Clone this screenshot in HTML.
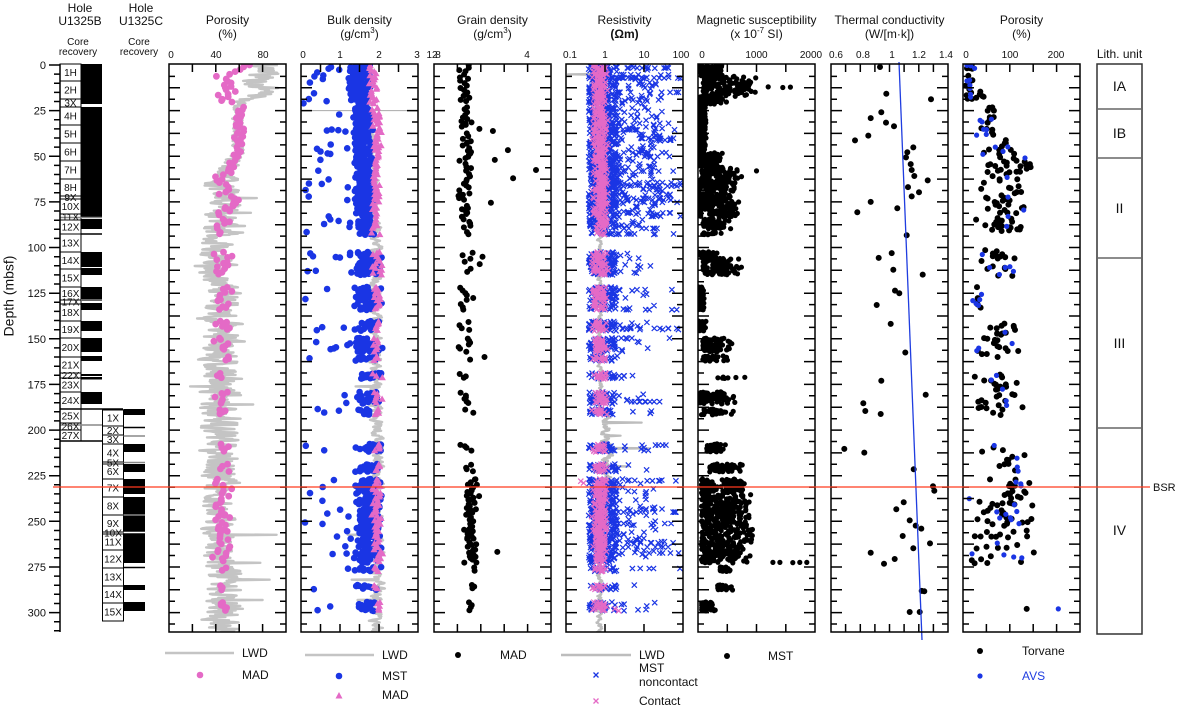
<!DOCTYPE html>
<html><head><meta charset="utf-8"><title>Hole U1325B / U1325C physical properties</title>
<style>
html,body{margin:0;padding:0;background:#fff}
svg{display:block}
text{font-family:"Liberation Sans",Arial,sans-serif;fill:#111}
</style>
</head><body>
<svg id="svg" xmlns="http://www.w3.org/2000/svg" width="1180" height="708" viewBox="0 0 1180 708">
<defs>
<clipPath id="k1"><rect x="169" y="64" width="117" height="568"/></clipPath>
<clipPath id="k2"><rect x="301" y="64" width="117" height="568"/></clipPath>
<clipPath id="k3"><rect x="434" y="64" width="117" height="568"/></clipPath>
<clipPath id="k4"><rect x="566" y="64" width="117" height="568"/></clipPath>
<clipPath id="k5"><rect x="698" y="64" width="117" height="568"/></clipPath>
<clipPath id="k6"><rect x="831" y="64" width="117" height="568"/></clipPath>
<clipPath id="k7"><rect x="963" y="64" width="117" height="568"/></clipPath>
</defs>

<!-- Headers -->
<g font-size="12" text-anchor="middle">
<text x="80" y="12">Hole</text><text x="80" y="25">U1325B</text>
<text x="141" y="12">Hole</text><text x="141" y="25">U1325C</text>
<text x="227.5" y="24">Porosity</text><text x="227.5" y="38">(%)</text>
<text x="359.5" y="24">Bulk density</text><text x="359.5" y="38">(g/cm<tspan font-size="8" dy="-5">3</tspan><tspan dy="5">)</tspan></text>
<text x="492.5" y="24">Grain density</text><text x="492.5" y="38">(g/cm<tspan font-size="8" dy="-5">3</tspan><tspan dy="5">)</tspan></text>
<text x="624.5" y="24">Resistivity</text><text x="624.5" y="38" font-weight="bold">(Ωm)</text>
<text x="756.5" y="24">Magnetic susceptibility</text><text x="756.5" y="38">(x 10<tspan font-size="8" dy="-5">-7</tspan><tspan dy="5"> SI)</tspan></text>
<text x="889.5" y="24">Thermal conductivity</text><text x="889.5" y="38">(W/[m·k])</text>
<text x="1021.5" y="24">Porosity</text><text x="1021.5" y="38">(%)</text>
<text x="1119.5" y="58">Lith. unit</text>
</g>
<g font-size="10" text-anchor="middle">
<text x="78" y="45">Core</text><text x="78" y="55">recovery</text>
<text x="139" y="45">Core</text><text x="139" y="55">recovery</text>
</g>

<!-- tick labels -->
<g font-size="10" text-anchor="middle">
<text x="171" y="58">0</text><text x="216" y="58">40</text><text x="263" y="58">80</text>
<text x="303" y="58">0</text><text x="340" y="58">1</text><text x="379" y="58">2</text><text x="417" y="58">3</text>
<text x="432" y="58">12</text><text x="438" y="58">8</text><text x="527" y="58">4</text>
<text x="570" y="58">0.1</text><text x="605" y="58">1</text><text x="644" y="58">10</text><text x="681" y="58">100</text>
<text x="702" y="58">0</text><text x="756.5" y="58">1000</text><text x="811" y="58">2000</text>
<text x="836" y="58">0.6</text><text x="863" y="58">0.8</text><text x="892" y="58">1</text><text x="919" y="58">1.2</text><text x="946" y="58">1.4</text>
<text x="966" y="58">0</text><text x="1010" y="58">100</text><text x="1056" y="58">200</text>
</g>

<!-- depth axis labels -->
<g font-size="11" text-anchor="end">
<text x="46" y="69">0</text>
<text x="46" y="114.6">25</text>
<text x="46" y="160.3">50</text>
<text x="46" y="205.9">75</text>
<text x="46" y="251.5">100</text>
<text x="46" y="297.2">125</text>
<text x="46" y="342.8">150</text>
<text x="46" y="388.4">175</text>
<text x="46" y="434.1">200</text>
<text x="46" y="479.7">225</text>
<text x="46" y="525.3">250</text>
<text x="46" y="571">275</text>
<text x="46" y="616.6">300</text>
</g>
<text font-size="14" text-anchor="middle" transform="translate(13.5,296) rotate(-90)">Depth (mbsf)</text>

<!-- Core recovery Hole B -->
<g stroke="#000" stroke-width="1" fill="#fff">
<rect x="60" y="64" width="21" height="17"/><rect x="60" y="81" width="21" height="18"/><rect x="60" y="99" width="21" height="8"/>
<rect x="60" y="107" width="21" height="18"/><rect x="60" y="125" width="21" height="18"/><rect x="60" y="143" width="21" height="18"/>
<rect x="60" y="161" width="21" height="18"/><rect x="60" y="179" width="21" height="17"/><rect x="60" y="196" width="21" height="3"/>
<rect x="60" y="199" width="21" height="15"/><rect x="60" y="214" width="21" height="6"/><rect x="60" y="220" width="21" height="14"/>
<rect x="60" y="234" width="21" height="18"/><rect x="60" y="252" width="21" height="17"/><rect x="60" y="269" width="21" height="18"/>
<rect x="60" y="287" width="21" height="13"/><rect x="60" y="300" width="21" height="4"/><rect x="60" y="304" width="21" height="17"/>
<rect x="60" y="321" width="21" height="17"/><rect x="60" y="338" width="21" height="19"/><rect x="60" y="357" width="21" height="16"/>
<rect x="60" y="373" width="21" height="5"/><rect x="60" y="378" width="21" height="14"/><rect x="60" y="392" width="21" height="17"/>
<rect x="60" y="409" width="21" height="14"/><rect x="60" y="423" width="21" height="7"/><rect x="60" y="430" width="21" height="11"/>
</g>
<g fill="#000">
<rect x="81" y="64" width="21" height="40"/><rect x="81" y="107" width="21" height="110"/><rect x="81" y="219" width="21" height="10"/>
<rect x="81" y="252" width="21" height="15"/><rect x="81" y="268" width="21" height="7"/><rect x="81" y="287" width="21" height="14"/>
<rect x="81" y="303" width="21" height="7"/><rect x="81" y="321" width="21" height="10"/><rect x="81" y="338" width="21" height="14"/>
<rect x="81" y="356" width="21" height="5"/><rect x="81" y="374" width="21" height="2"/><rect x="81" y="377" width="21" height="2.5"/>
<rect x="81" y="392" width="21" height="12"/>
</g>
<g stroke-width="1.5">
<line x1="60" y1="217.5" x2="102" y2="217.5" stroke="#888"/>
<line x1="81" y1="234" x2="102" y2="234" stroke="#000"/>
<line x1="81" y1="300" x2="102" y2="300" stroke="#888"/>
<line x1="60" y1="409" x2="123" y2="409" stroke="#000"/>
<line x1="60" y1="425" x2="102" y2="425" stroke="#888"/>
<line x1="60" y1="441" x2="102" y2="441" stroke="#000"/>
</g>
<g font-size="10" text-anchor="middle">
<text x="70.5" y="76">1H</text><text x="70.5" y="93.5">2H</text><text x="70.5" y="106.5">3X</text>
<text x="70.5" y="119.5">4H</text><text x="70.5" y="137.5">5H</text><text x="70.5" y="155.5">6H</text>
<text x="70.5" y="173.5">7H</text><text x="70.5" y="191">8H</text><text x="70.5" y="201">9X</text>
<text x="70.5" y="210">10X</text><text x="70.5" y="220.5">11X</text><text x="70.5" y="230.5">12X</text>
<text x="70.5" y="246.5">13X</text><text x="70.5" y="264">14X</text><text x="70.5" y="281.5">15X</text>
<text x="70.5" y="297">16X</text><text x="70.5" y="305.5">17X</text><text x="70.5" y="316">18X</text>
<text x="70.5" y="333">19X</text><text x="70.5" y="351">20X</text><text x="70.5" y="368.5">21X</text>
<text x="70.5" y="379">22X</text><text x="70.5" y="388.5">23X</text><text x="70.5" y="404">24X</text>
<text x="70.5" y="419.5">25X</text><text x="70.5" y="430">26X</text><text x="70.5" y="439">27X</text>
</g>

<!-- Core recovery Hole C -->
<g stroke="#000" stroke-width="1" fill="#fff">
<rect x="102.5" y="410" width="21" height="16"/><rect x="102.5" y="426" width="21" height="9"/><rect x="102.5" y="435" width="21" height="9"/>
<rect x="102.5" y="444" width="21" height="18"/><rect x="102.5" y="462" width="21" height="2"/><rect x="102.5" y="464" width="21" height="15"/>
<rect x="102.5" y="479" width="21" height="18"/><rect x="102.5" y="497" width="21" height="18"/><rect x="102.5" y="515" width="21" height="17"/>
<rect x="102.5" y="532" width="21" height="2"/><rect x="102.5" y="534" width="21" height="16"/><rect x="102.5" y="550" width="21" height="18"/>
<rect x="102.5" y="568" width="21" height="18"/><rect x="102.5" y="586" width="21" height="17"/><rect x="102.5" y="603" width="21" height="18"/>
</g>
<g fill="#000">
<rect x="123.5" y="409" width="21.5" height="6"/><rect x="123.5" y="444" width="21.5" height="8"/><rect x="123.5" y="464" width="21.5" height="8"/>
<rect x="123.5" y="479" width="21.5" height="15"/><rect x="123.5" y="497" width="21.5" height="66"/><rect x="123.5" y="585" width="21.5" height="5"/>
<rect x="123.5" y="602" width="21.5" height="9"/>
</g>
<g stroke-width="1.5">
<line x1="123.5" y1="427.5" x2="145" y2="427.5" stroke="#000"/>
<line x1="123.5" y1="436" x2="145" y2="436" stroke="#888"/>
<line x1="123.5" y1="462.5" x2="145" y2="462.5" stroke="#888"/>
<line x1="123.5" y1="515" x2="145" y2="515" stroke="#888"/>
<line x1="123.5" y1="532.5" x2="145" y2="532.5" stroke="#fff"/>
<line x1="123.5" y1="567.5" x2="145" y2="567.5" stroke="#000"/>
</g>
<g font-size="10" text-anchor="middle">
<text x="113" y="421.5">1X</text><text x="113" y="434">2X</text><text x="113" y="443">3X</text>
<text x="113" y="456.5">4X</text><text x="113" y="466.5">5X</text><text x="113" y="475">6X</text>
<text x="113" y="491.5">7X</text><text x="113" y="509.5">8X</text><text x="113" y="527">9X</text>
<text x="113" y="536.5">10X</text><text x="113" y="545.5">11X</text><text x="113" y="562.5">12X</text>
<text x="113" y="580.5">13X</text><text x="113" y="598">14X</text><text x="113" y="615.5">15X</text>
</g>

<!-- data -->
<g id="data"></g>
<!-- thermal fit line -->
<line x1="899" y1="62" x2="922" y2="640" stroke="#1f3de0" stroke-width="1.3"/>
<!-- axes/frames -->
<g id="axes" fill="none" stroke="#000" stroke-width="1.5"></g>

<!-- Lith unit -->
<rect x="1097" y="64" width="45" height="570" fill="none" stroke="#333" stroke-width="1.5"/>
<g stroke="#666" stroke-width="1.5">
<line x1="1097" y1="109" x2="1142" y2="109"/>
<line x1="1097" y1="158" x2="1142" y2="158"/>
<line x1="1097" y1="258" x2="1142" y2="258"/>
<line x1="1097" y1="428" x2="1142" y2="428"/>
</g>
<g font-size="14" text-anchor="middle">
<text x="1119.5" y="91">IA</text>
<text x="1119.5" y="138">IB</text>
<text x="1119.5" y="213">II</text>
<text x="1119.5" y="348">III</text>
<text x="1119.5" y="535">IV</text>
</g>

<!-- BSR -->
<line x1="53" y1="487" x2="1150" y2="487" stroke="#ff3b1f" stroke-width="1.2"/>
<text x="1153" y="491" font-size="11">BSR</text>

<!-- Legends -->
<g font-size="12">
<line x1="165" y1="653" x2="234" y2="653" stroke="#c4c4c4" stroke-width="2.4"/>
<text x="242" y="657">LWD</text>
<circle cx="200" cy="675" r="3.3" fill="#e46ac6"/>
<text x="242" y="679">MAD</text>

<line x1="305" y1="655" x2="374" y2="655" stroke="#c4c4c4" stroke-width="2.4"/>
<text x="382" y="659">LWD</text>
<circle cx="339" cy="676" r="3.3" fill="#1a35e4"/>
<text x="382" y="680">MST</text>
<path d="M339 692 L342.5 698.5 L335.5 698.5 Z" fill="#e46ac6"/>
<text x="382" y="699">MAD</text>

<circle cx="458" cy="655" r="3" fill="#000"/>
<text x="500" y="659">MAD</text>

<line x1="561" y1="655" x2="631" y2="655" stroke="#bdbdbd" stroke-width="2.4"/>
<text x="639" y="659">LWD</text>
<path d="M593.5 672.5 L598.5 677.5 M593.5 677.5 L598.5 672.5" stroke="#1a35e4" stroke-width="1.3"/>
<text x="639" y="672">MST</text>
<text x="639" y="686">noncontact</text>
<path d="M593.5 698.5 L598.5 703.5 M593.5 703.5 L598.5 698.5" stroke="#e46ac6" stroke-width="1.3"/>
<text x="639" y="705">Contact</text>

<circle cx="727" cy="656" r="3" fill="#000"/>
<text x="768" y="660">MST</text>

<circle cx="980" cy="651" r="3" fill="#000"/>
<text x="1022" y="655">Torvane</text>
<circle cx="980" cy="676" r="2.6" fill="#1a35e4"/>
<text x="1022" y="680" style="fill:#1f3de0">AVS</text>
</g>
</svg>

<script>
(function(){
var PINK='#e46ac6',BLUE='#1a35e4',GRAY='#c4c4c4';
var a=20240611;
function R(){a|=0;a=a+0x6D2B79F5|0;var t=Math.imul(a^a>>>15,1|a);t=t+Math.imul(t^t>>>7,61|t)^t;return((t^t>>>14)>>>0)/4294967296;}
function U(p,q){return p+(q-p)*R();}
function T(){return R()+R()-1;}
function Y(d){return 65+1.8253*d;}
function f(n){return (Math.round(n*10)/10).toString();}
function ip(K,d){if(d<=K[0][0])return [K[0][1],K[0][2]];for(var i=1;i<K.length;i++){if(d<=K[i][0]){var p=K[i-1],q=K[i],t=(d-p[0])/(q[0]-p[0]);return [p[1]+(q[1]-p[1])*t,p[2]+(q[2]-p[2])*t];}}var l=K[K.length-1];return [l[1],l[2]];}
var CI=[[0,21.4],[23,83.3],[84.4,89.8],[91.5,93],[102.4,110.7],[111.2,115],[121.6,129.3],[130.4,134.2],[140.3,145.7],[149.6,157.2],[159.4,162.2],[168.7,172],[179.1,185.7],[188.5,191.7],[207.6,212],[218.6,223],[226.8,272.8],[275,277.5],[284.9,287.6],[294.2,299.1]];
function each(st,fn){for(var i=0;i<CI.length;i++){var c=CI[i];for(var d=c[0]+R()*st*0.5;d<c[1];d+=st*(0.5+R()))fn(d);}}
var out=[];
function dots(P,r,col,k){var s='';for(var i=0;i<P.length;i++)s+='M'+f(P[i][0])+' '+f(P[i][1])+'h0.01';out.push('<path clip-path="url(#'+k+')" d="'+s+'" fill="none" stroke="'+col+'" stroke-width="'+(2*r)+'" stroke-linecap="round"/>');}
function xs(P,h,col,k){var s='';for(var i=0;i<P.length;i++){var x=P[i][0],y=P[i][1];s+='M'+f(x-h)+' '+f(y-h)+'L'+f(x+h)+' '+f(y+h)+'M'+f(x-h)+' '+f(y+h)+'L'+f(x+h)+' '+f(y-h);}out.push('<path clip-path="url(#'+k+')" d="'+s+'" fill="none" stroke="'+col+'" stroke-width="1.2"/>');}
function tri(P,h,col,k){var s='';for(var i=0;i<P.length;i++){var x=P[i][0],y=P[i][1];s+='M'+f(x)+' '+f(y-h)+'L'+f(x+h)+' '+f(y+h*0.75)+'L'+f(x-h)+' '+f(y+h*0.75)+'Z';}out.push('<path clip-path="url(#'+k+')" d="'+s+'" fill="'+col+'"/>');}
function lwd(K,S,sx,st,w,k,col,cor){var s='',n=0;cor=cor||0.55;for(var d=0;d<=311;d+=st){var q=ip(K,d);n=cor*n+0.9*(R()*2-1);if(n>1.3)n=1.3;if(n<-1.3)n=-1.3;var v=q[0]+q[1]*n;for(var j=0;j<S.length;j++)if(Math.abs(d-S[j][0])<st*0.51)v=S[j][1];s+=(s?'L':'M')+f(sx(v))+' '+f(Y(d));}out.push('<path clip-path="url(#'+k+')" d="'+s+'" fill="none" stroke="'+(col||GRAY)+'" stroke-width="'+w+'" stroke-linejoin="round"/>');}

var xp=function(v){return 169+1.17*v;};
var xb=function(v){return 301+39*v;};
var xg=function(v){return 434+46.8*(v-2);};
var xr=function(L){return 566+39*(L+1);};
var xm=function(v){return 698+0.0585*v;};
var xt=function(v){return 831+146.25*(v-0.6);};
var x2=function(v){return 963+0.468*v;};

/* ---- Porosity ---- */
var PK=[[0,85,12],[4,80,15],[8,78,14],[14,80,13],[18,72,13],[21,62,7],[25,60,5],[48,58,5],[52,54,8],[58,50,10],[65,44,13],[72,46,13],[78,48,15],[85,48,18],[92,46,18],[97,42,15],[120,42,14],[122,46,14],[148,46,14],[150,44,17],[195,44,17],[231,45,15],[235,43,12],[275,43,12],[278,48,17],[311,48,16]];
var PS=[[73,75],[81,70],[176,18],[257.5,92],[272.6,78],[282,86],[293,80],[110,22],[139,24],[186,72]];
lwd(PK,PS,xp,0.3,2.4,'k1',null,0.35);
var MK=[[0,70,5],[3,58,12],[5,48,12],[20,48,12],[22,58,5],[23,61,5],[50,59,5],[55,54,6],[62,44,9],[71,44,9],[73,57,4],[77,57,4],[78,46,8],[95,47,8],[100,46,9],[300,45,9]];
var pm=[];each(1.0,function(d){var q=ip(MK,d);pm.push([xp(q[0]+q[1]*T()),Y(d)]);});
dots(pm,3.4,PINK,'k1');

/* ---- Bulk density ---- */
var BK=[[0,1.6,0.2],[20,1.65,0.15],[25,1.75,0.08],[60,1.85,0.1],[100,1.92,0.13],[311,1.95,0.16]];
lwd(BK,[[176,1.4],[257.5,1.2],[282,1.3],[293,1.45]],xb,0.3,2.4,'k2');
out.push('<line x1="301" y1="110.6" x2="418" y2="110.6" stroke="#aaa" stroke-width="1"/>');
var BBK=[[0,1.5,0.26],[21,1.52,0.26],[23,1.58,0.2],[83,1.6,0.22],[100,1.7,0.3],[311,1.72,0.3]];
var bm=[];each(0.2,function(d){var q=ip(BBK,d);var po=(d>226&&d<273)?0.12:0.08;var v=R()<po?U(0.05,1.3):q[0]+q[1]*1.3*T();bm.push([xb(v),Y(d)]);});
dots(bm,3.3,BLUE,'k2');
var bt=[];each(0.9,function(d){var v=(d<22?1.85:1.95)+0.15*T();bt.push([xb(v),Y(d)]);});
tri(bt,3.6,PINK,'k2');

/* ---- Grain density ---- */
var gp=[];each(1.2,function(d){var c=d>225?2.8:2.68;var v=c+0.14*T()*1.3;if(R()<0.05)v=c+U(0.2,0.6);gp.push([xg(v),Y(d)]);});
each(2.5,function(d){if(d>226&&d<273){gp.push([xg(2.8+0.14*T()*1.3),Y(d)]);}});
[[46.6,3.58],[57.5,4.18],[62,3.69],[52,3.3]].forEach(function(p){gp.push([xg(p[1]),Y(p[0])]);});
dots(gp,3,'#000','k3');

/* ---- Resistivity ---- */
var RK=[[0,-0.12,0.06],[25,-0.15,0.05],[100,-0.14,0.05],[190,-0.12,0.06],[194,0.05,0.12],[228,0.05,0.12],[232,-0.13,0.05],[311,-0.15,0.06]];
lwd(RK,[[5,-0.95],[196,0.94],[210,1.13],[220,0.6],[203,0.4]],xr,0.3,2.2,'k4','#bdbdbd');
var rb=[];
each(0.15,function(d){var top=d<84;rb.push([xr(U(-0.42,0.3)),Y(d)]);
 if(R()<(top?0.7:0.2))rb.push([xr(top?-0.3+1.8*Math.pow(R(),1.6):U(-0.1,1.3)),Y(d)]);
 if(R()<(top?0.04:0.025)){var n=3+Math.floor(R()*7);for(var j=0;j<n;j++)rb.push([xr(U(0.2,1.95)),Y(d)]);}});
xs(rb,2.6,BLUE,'k4');
var rp=[];each(0.22,function(d){rp.push([xr(-0.13+0.16*T()*1.4),Y(d)]);});
[[228,-0.62],[229,-0.55],[298,0.25],[299,0.35]].forEach(function(p){rp.push([xr(p[1]),Y(p[0])]);});
xs(rp,2.6,PINK,'k4');

/* ---- Magnetic susceptibility ---- */
var MI=[[0,6,0,480],[6,17.5,80,1080],[17.5,21.4,0,520],[23,48,0,140],[48,56,0,420],[56,62,60,800],[62,83.3,0,700],[84.4,89.8,80,580],[91.5,93,80,500],[102.4,106,0,350],[106,115,80,760],[121.6,134.2,0,110],[140.3,145.7,0,140],[149.6,157.2,80,600],[159.4,162.2,80,520],[171,171.8,300,850],[179.1,185.7,0,680],[188.5,191.7,60,650],[207.6,212,150,480],[218.6,223,200,850],[226.8,250,60,950],[250,262,60,1060],[262,272.8,60,900],[275,277.5,380,580],[284.9,287.6,330,650],[294.2,299.1,60,330]];
var mp=[];MI.forEach(function(m){for(var d=m[0];d<m[1];d+=0.09){var hi=m[3]*(0.65+0.35*R());mp.push([xm(m[2]+(hi-m[2])*Math.pow(R(),1.2)),Y(d)]);}});
[[12,1200],[12.3,1450],[12.1,1580],[58,1000],[272.5,1280],[272.5,1400],[272.6,1620],[272.5,1740],[272.5,1860]].forEach(function(p){mp.push([xm(p[1]),Y(p[0])]);});
dots(mp,2.6,'#000','k5');

/* ---- Thermal conductivity ---- */
var TP=[[880,67],[886.3,93.7],[931,99.2],[881.3,112.2],[870.7,118.1],[886,122.6],[894,126.3],[868.3,135.6],[855,140.4],[913.3,147.4],[907.3,152.2],[906,157.4],[910.7,164.1],[911.7,170],[914.3,176],[927.7,180.4],[908,187.1],[919,192.3],[911.7,196.4],[870.7,201.9],[857.3,212.3],[897.3,208.2],[906.7,235.3],[891.7,253.1],[878.7,257.9],[893.3,269.8],[922.7,274.6],[895,290.6],[899.3,293.2],[876.7,305],[890.7,323.9],[905.3,352.5],[881.3,380.7],[925.7,394.7],[863.3,403.3],[865.3,411],[880.7,414],[844.3,448.9],[864.3,452.6],[913.7,469.3],[933,486.3],[934.3,490.8],[903.7,502.3],[896.3,509.3],[909.7,520.4],[915.7,525.6],[921.3,528.6],[902.7,536],[930,543.4],[913.3,548.3],[870.7,552.7],[894.7,559],[884,563.8],[921.7,590.9],[924.3,591.3],[909.7,612],[919.7,612]];
dots(TP,3,'#000','k6');

/* ---- Porosity 2 ---- */
var P2C=[[0,19,965,975,25,0.4],[14,19,975,985,6,0],[23,39,975,1000,20,0.4],[41,91,975,1035,90,0.12],[52.5,56,1020,1036,5,0],[100,117,977,1025,25,0.3],[121,134,972,985,10,0.4],[140,160,970,1023,30,0.25],[168,192,968,1025,35,0.2],[208,223,977,1033,15,0.3],[227,273,968,1042,80,0.25]];
var pb=[],pu=[];
P2C.forEach(function(c){for(var i=0;i<c[4];i++){var d=U(c[0],c[1]);var x=c[2]+(c[3]-c[2])*(R()+R())/2;(R()<c[5]?pu:pb).push([x,Y(d)]);}});
pb.push([1026.7,Y(298)]);pu.push([1058.3,Y(298)]);
dots(pb,3,'#000','k7');
dots(pu,2.6,BLUE,'k7');

document.getElementById('data').innerHTML=out.join('');

/* ---- axes ---- */
var PX=[[169,xp,[20,40,60,80]],[301,xb,[0.5,1,1.5,2,2.5]],[434,xg,[2.5,3,3.5,4]],[566,function(v){return xr(Math.log(v)/Math.LN10);},[1,10]],[698,xm,[500,1000,1500]],[831,xt,[0.7,0.8,0.9,1,1.1,1.2,1.3]],[963,x2,[50,100,150,200]]];
var s='';
PX.forEach(function(p){var x=p[0],w=117;s+='M'+x+' 64h'+w+'v568h'+(-w)+'Z';
 for(var i=1;i*6.25<309;i++){var y=f(Y(i*6.25)),L=(i%2)?6:11;s+='M'+x+' '+y+'h'+L+'M'+(x+w)+' '+y+'h'+(-L);}
 p[2].forEach(function(v){var X=f(p[1](v));s+='M'+X+' 64v8M'+X+' 632v-8';});});
s+='M60 64V632';
for(var d=0;d<=310;d+=5){var y=f(Y(d));s+=(d%25===0)?('M49 '+y+'H60'):('M54 '+y+'H60');}
document.getElementById('axes').innerHTML='<path d="'+s+'"/>';
})();
</script>
</body></html>
